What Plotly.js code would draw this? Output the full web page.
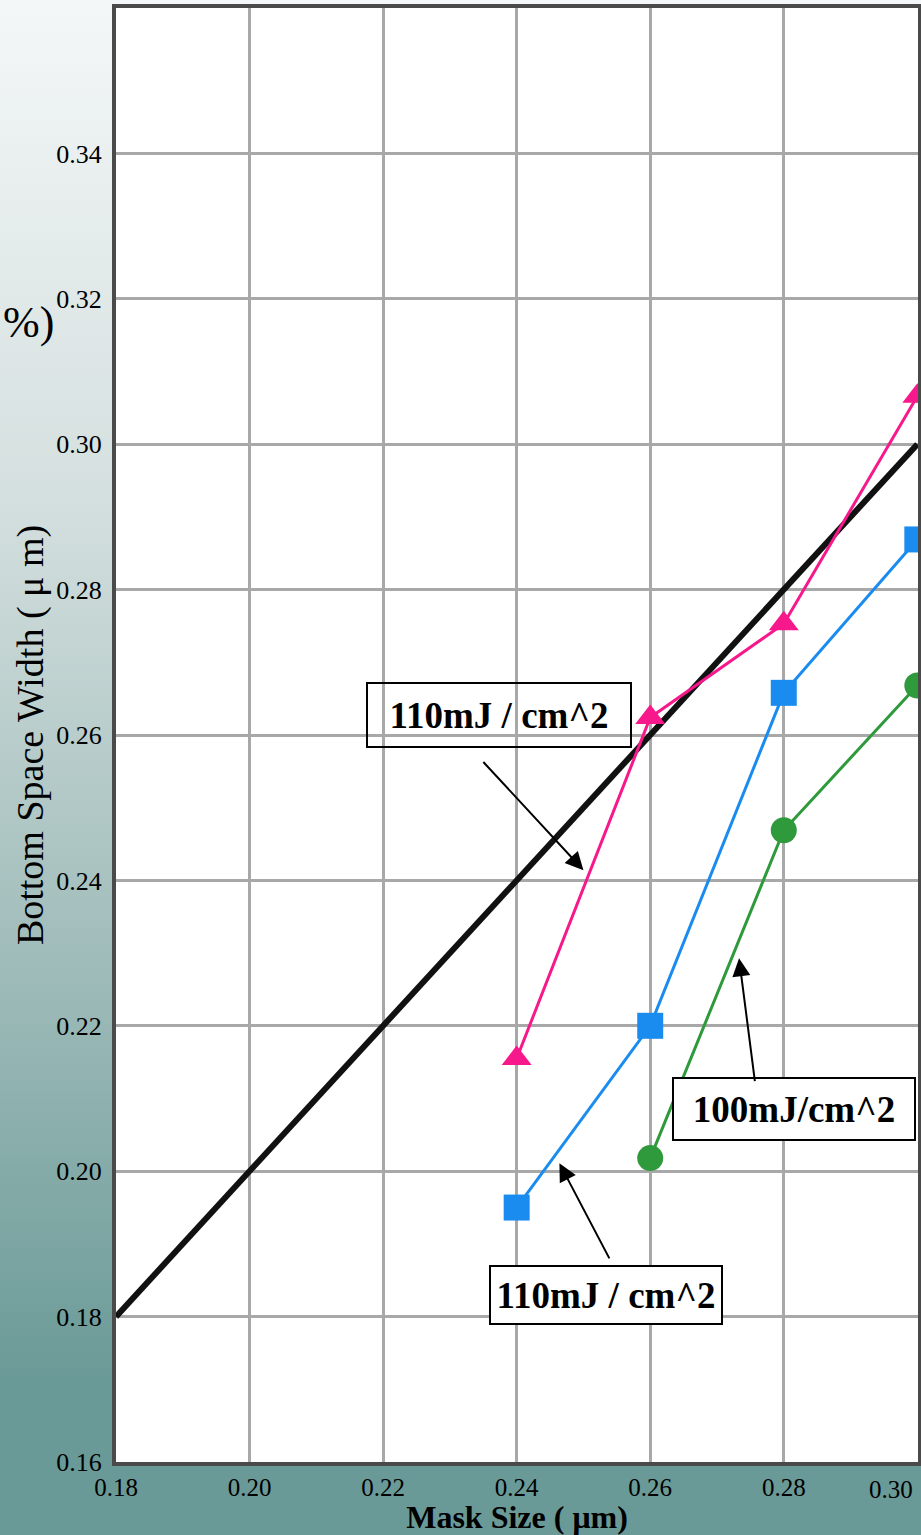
<!DOCTYPE html>
<html>
<head>
<meta charset="utf-8">
<script src="https://cdn.plot.ly/plotly-3.0.1.min.js"></script>
<style>
html,body{margin:0;padding:0;}
body{width:921px;height:1535px;background:linear-gradient(to bottom,#f4f7f7 0%,#d3dfde 33%,#9bb9b7 65%,#6a9a97 90%,#6a9a97 100%);}
#chart{width:921px;height:1535px;}
</style>
</head>
<body>
<div id="chart"></div>
<script>
// Data
const maskSize = [0.24, 0.26, 0.28, 0.30];
const pink110 = [0.2155, 0.2624, 0.2753, 0.3066];
const maskSizeBlue = [0.24, 0.26, 0.28, 0.30];
const blue110 = [0.195, 0.220, 0.2658, 0.2869];
const maskSizeGreen = [0.26, 0.28, 0.30];
const green100 = [0.2018, 0.2469, 0.2668];
const refX = [0.18, 0.30];
const refY = [0.18, 0.30];
const xTicks = [0.18, 0.20, 0.22, 0.24, 0.26, 0.28, 0.30];
const xTickText = ["0.18", "0.20", "0.22", "0.24", "0.26", "0.28", ""];
const lastXTickText = "0.30";
const yTicks = [0.16, 0.18, 0.20, 0.22, 0.24, 0.26, 0.28, 0.30, 0.32, 0.34];
const labels = ["110mJ / cm^2", "100mJ/cm^2", "110mJ / cm^2"];

const serif = "Liberation Serif, Times New Roman, serif";

const traces = [
  {x: refX, y: refY, mode: 'lines', line: {color: '#111111', width: 6}, hoverinfo: 'skip'},
  {x: maskSize, y: pink110, mode: 'lines+markers', line: {color: '#f7188c', width: 3},
   marker: {symbol: 'triangle-up', size: 26, color: '#f7188c'}},
  {x: maskSizeBlue, y: blue110, mode: 'lines+markers', line: {color: '#1a8cf0', width: 3},
   marker: {symbol: 'square', size: 26, color: '#1a8cf0'}},
  {x: maskSizeGreen, y: green100, mode: 'lines+markers', line: {color: '#2e9a3c', width: 3},
   marker: {symbol: 'circle', size: 26, color: '#2e9a3c'}}
];

const boxFont = {family: serif, size: 37, color: '#000'};
const annotations = [
  // label boxes
  {x: 0.2373, y: 0.2628, xref: 'x', yref: 'y', text: '<b>' + labels[0] + '</b>', showarrow: false,
   font: boxFont, bgcolor: 'rgba(255,255,255,0)', bordercolor: '#000', borderwidth: 2, width: 258, height: 58, borderpad: 2},
  {x: 0.2816, y: 0.2085, xref: 'x', yref: 'y', text: '<b>' + labels[1] + '</b>', showarrow: false,
   font: boxFont, bgcolor: '#ffffff', bordercolor: '#000', borderwidth: 2, width: 236, height: 56, borderpad: 2},
  {x: 0.2534, y: 0.1830, xref: 'x', yref: 'y', text: '<b>' + labels[2] + '</b>', showarrow: false,
   font: boxFont, bgcolor: '#ffffff', bordercolor: '#000', borderwidth: 2, width: 226, height: 52, borderpad: 2},
  // arrows
  {x: 0.2500, y: 0.2414, ax: 0.2348, ay: 0.2565, xref: 'x', yref: 'y', axref: 'x', ayref: 'y', text: '',
   showarrow: true, arrowhead: 2, arrowsize: 1.8, arrowwidth: 2, arrowcolor: '#000'},
  {x: 0.2733, y: 0.2293, ax: 0.2757, ay: 0.2122, xref: 'x', yref: 'y', axref: 'x', ayref: 'y', text: '',
   showarrow: true, arrowhead: 2, arrowsize: 1.8, arrowwidth: 2, arrowcolor: '#000'},
  {x: 0.2464, y: 0.2011, ax: 0.2540, ay: 0.1878, xref: 'x', yref: 'y', axref: 'x', ayref: 'y', text: '',
   showarrow: true, arrowhead: 2, arrowsize: 1.8, arrowwidth: 2, arrowcolor: '#000'},
  // cut-off label at far left
  {x: 0, y: 0, xref: 'paper', yref: 'paper', text: '%)', showarrow: false, xanchor: 'right', yanchor: 'middle',
   font: {family: serif, size: 44, color: '#000'}},
  // last x tick label, kept inside the picture as in the reference
  {x: xTicks[xTicks.length - 1], y: 0, xref: 'x', yref: 'paper', text: lastXTickText, showarrow: false,
   xanchor: 'right', yanchor: 'top', xshift: -2, yshift: -12, font: {family: serif, size: 25, color: '#000'}}
];
// convert the '%)' position from pixels to paper coords
annotations[6].x = (56 - 116) / (918 - 116);
annotations[6].y = (1462 - 322) / (1462 - 8);

const layout = {
  width: 921, height: 1535,
  margin: {l: 116, r: 3, t: 8, b: 73},
  paper_bgcolor: 'rgba(0,0,0,0)',
  plot_bgcolor: '#ffffff',
  showlegend: false,
  xaxis: {
    range: [0.18, 0.3001], tickvals: xTicks, ticktext: xTickText,
    showgrid: true, gridcolor: '#a8a8a8', gridwidth: 3,
    showline: true, linecolor: '#4a4a4a', linewidth: 4, mirror: true,
    ticks: '', ticklabelstandoff: 0, zeroline: false,
    tickfont: {family: serif, size: 25, color: '#000'},
    title: {text: '<b>Mask Size ( μm)</b>', font: {family: serif, size: 32, color: '#000'}, standoff: 5}
  },
  yaxis: {
    range: [0.16, 0.36], tickvals: yTicks, ticktext: yTicks.map(v => v.toFixed(2)),
    showgrid: true, gridcolor: '#a8a8a8', gridwidth: 3,
    showline: true, linecolor: '#4a4a4a', linewidth: 4, mirror: true,
    ticks: '', ticklabelstandoff: 5, zeroline: false,
    tickfont: {family: serif, size: 26, color: '#000'},
    title: {text: 'Bottom Space Width ( μ m)', font: {family: serif, size: 38, color: '#000'}, standoff: 2}
  },
  annotations: annotations
};

Plotly.newPlot('chart', traces, layout, {displayModeBar: false, staticPlot: true});
</script>
</body>
</html>
